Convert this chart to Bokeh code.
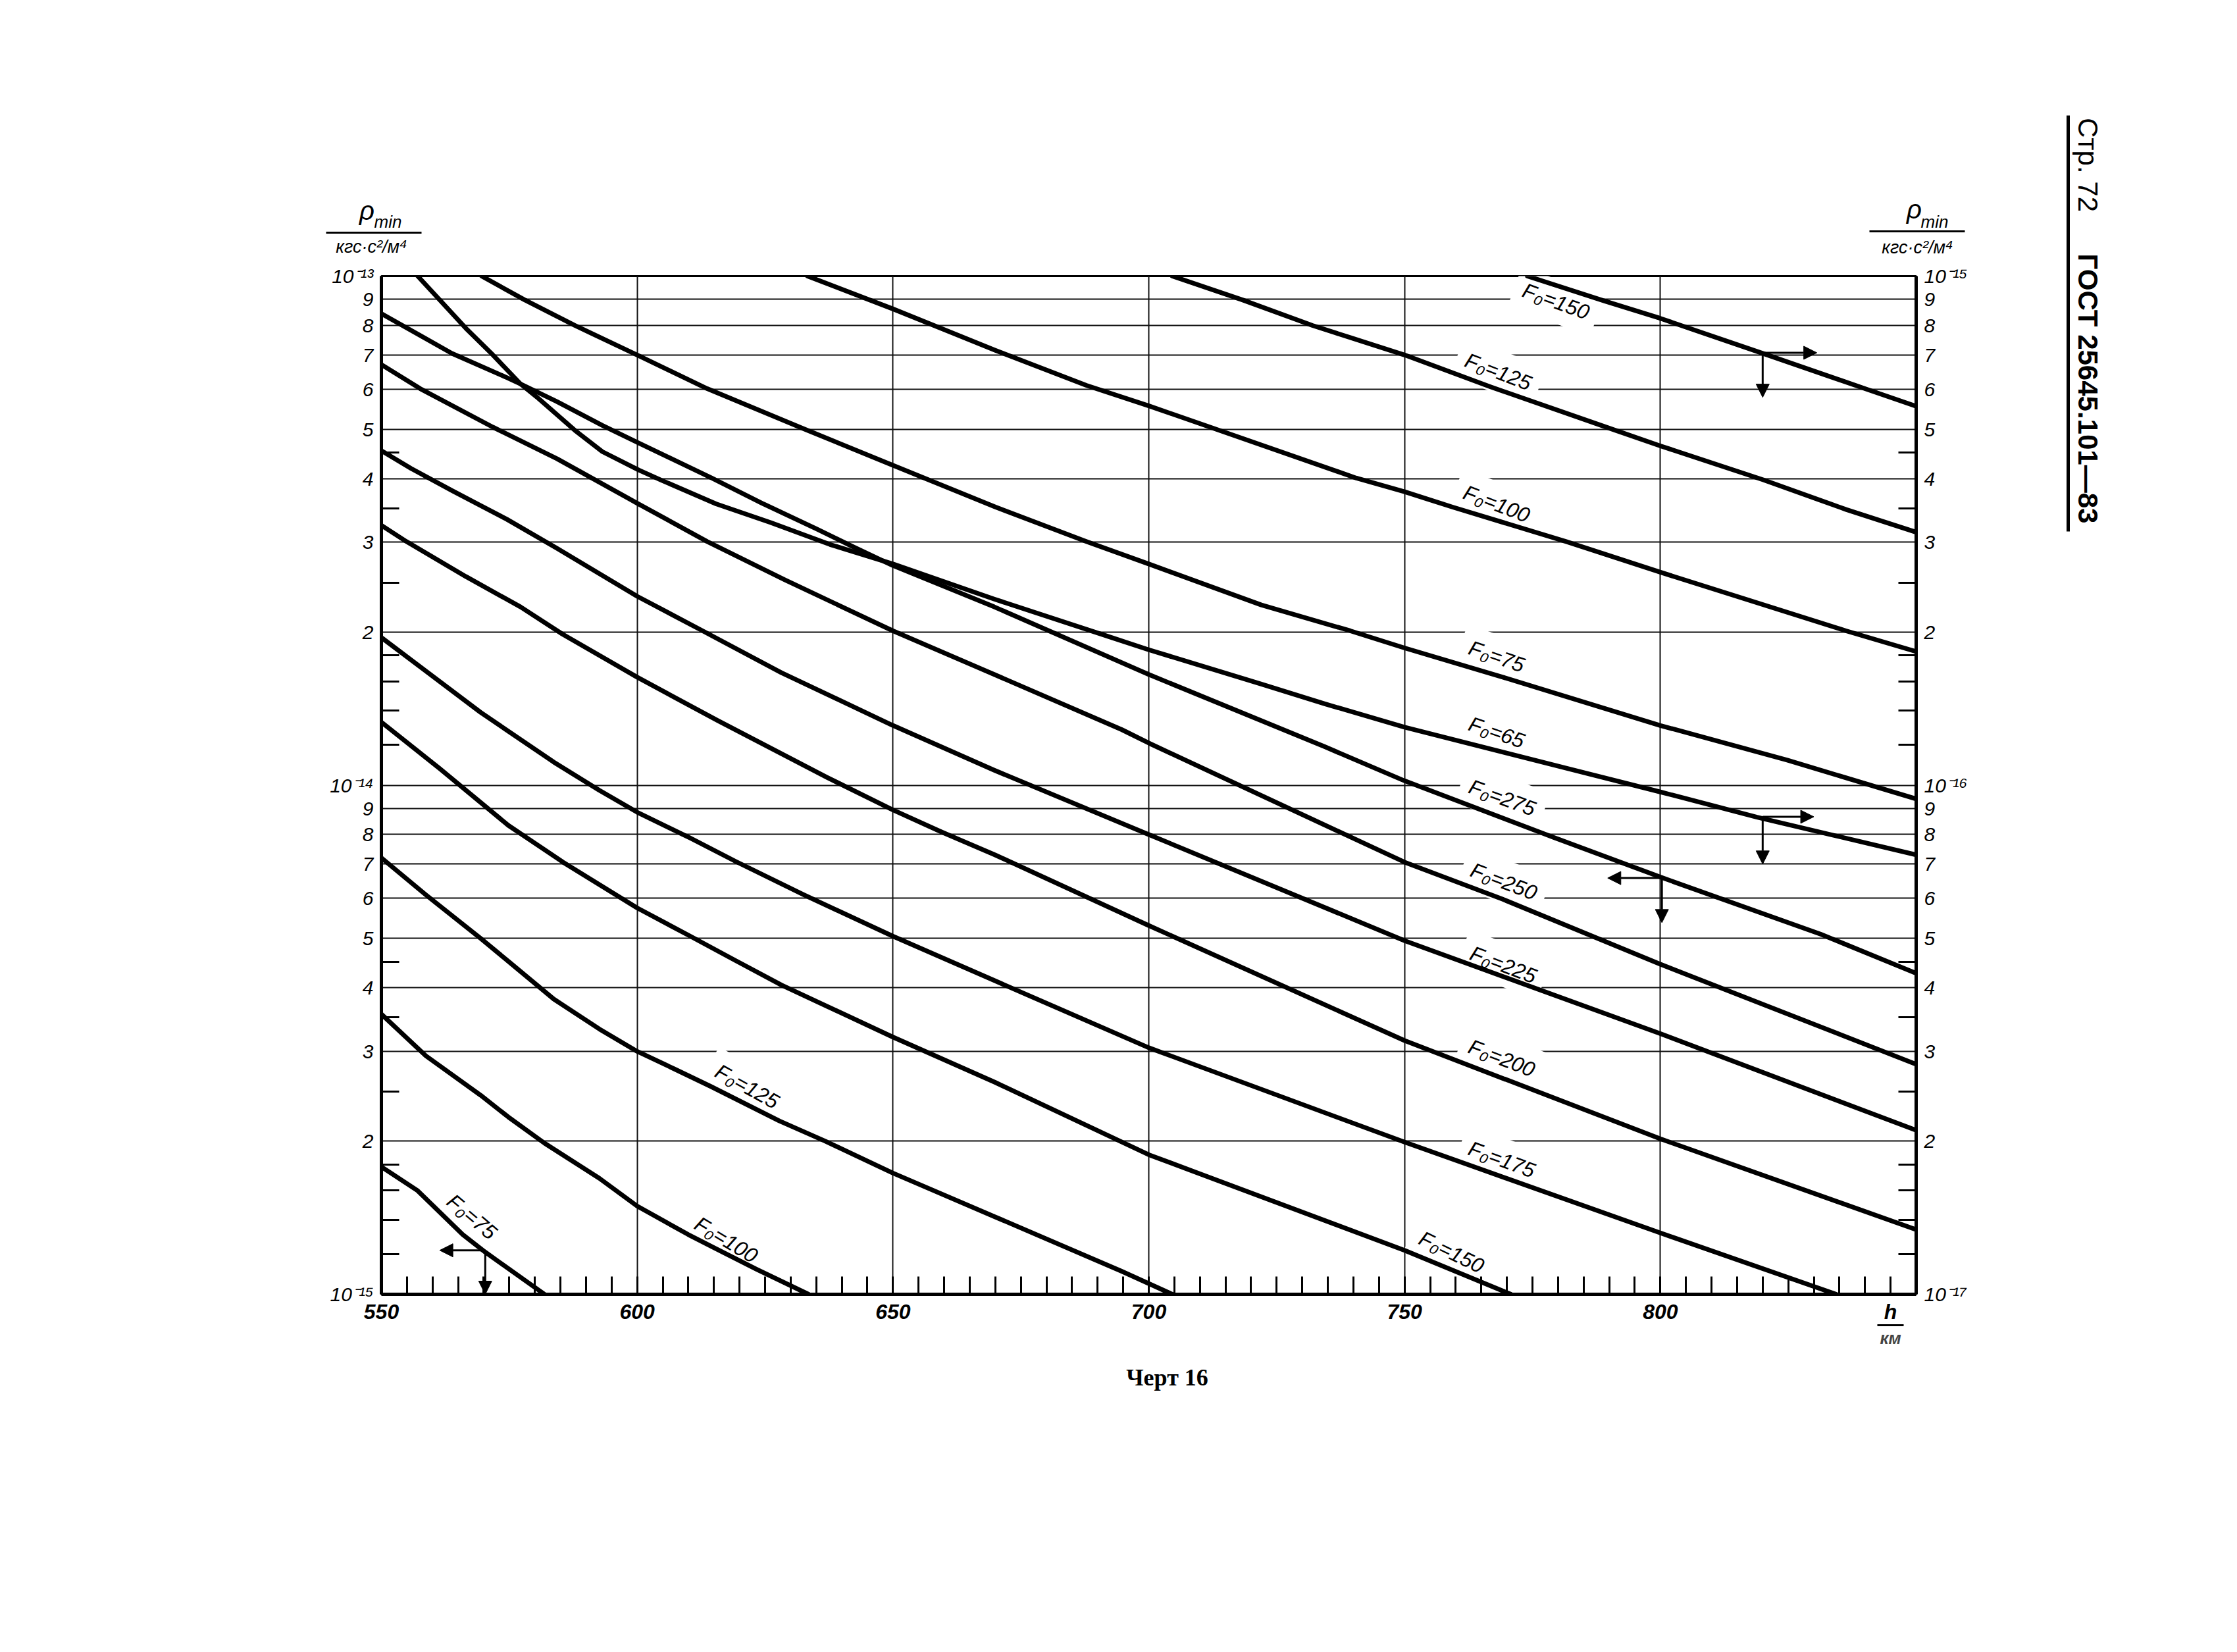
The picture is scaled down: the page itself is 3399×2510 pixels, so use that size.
import numpy as np
from bokeh.plotting import figure
from bokeh.layouts import row, column
from bokeh.models import (Plot, Range1d, LogScale, LogAxis, LinearAxis, FixedTicker, CustomJSTickFormatter,
                          Label, Arrow, NormalHead)
from bokeh.core.properties import value
from bokeh.embed import file_html
from bokeh.resources import INLINE

# ---------------- axis ticks ----------------
H_MAJOR = [550, 600, 650, 700, 750, 800]
H_UNIT_POS = 845                      # where the "h / км" unit is written
H_MINOR = list(range(555, 850, 5))
MANT_MAJOR = [1, 2, 3, 4, 5, 6, 7, 8, 9]
MANT_MINOR = [1.2, 1.4, 1.6, 1.8, 2.5, 3.5, 4.5]
LEFT_DECADES = [-15, -14]      # left scale 1e-15 .. 1e-13
RIGHT_DECADES = [-17, -16]     # right scale 1e-17 .. 1e-15

# ---------------- curves read on the RIGHT scale (values x 1e-15) ----------------
R150_h = [774.0, 789.0, 800.0, 820.0, 840.0, 850.0]
R150_v = [1.0, 0.894, 0.826, 0.705, 0.601, 0.555]
R125_h = [704.6, 718.3, 732.0, 750.0, 766.8, 789.2, 800.0, 820.1, 836.3, 850.0]
R125_v = [1.0, 0.898, 0.80, 0.70, 0.606, 0.506, 0.464, 0.398, 0.348, 0.314]
R100_h = [633.3, 650.0, 670.0, 687.8, 700.0, 710.8, 740.6, 750.0, 759.3, 781.6, 800.0, 836.3, 850.0]
R100_v = [1.0, 0.862, 0.715, 0.61, 0.556, 0.51, 0.401, 0.377, 0.352, 0.301, 0.262, 0.201, 0.183]
R75_h = [569.6, 578.0, 587.8, 600.0, 613.7, 632.4, 650.0, 670.0, 687.8, 700.0, 722.0, 739.4,
         750.0, 769.2, 800.0, 824.8, 850.0]
R75_v = [1.0, 0.898, 0.80, 0.70, 0.601, 0.502, 0.425, 0.352, 0.301, 0.272, 0.226, 0.201,
         0.186, 0.163, 0.131, 0.112, 0.094]
R65_h = [557.1, 566.5, 571.8, 577.2, 580.7, 587.8, 593.2, 600.3, 604.8, 615.4, 626.1, 637.7,
         650.0, 669.8, 693.4, 700.0, 722.0, 734.4, 750.0, 781.6, 800.0, 818.9, 850.0]
R65_v = [1.0, 0.79, 0.70, 0.614, 0.575, 0.498, 0.452, 0.416, 0.397, 0.357, 0.328, 0.297,
         0.272, 0.232, 0.194, 0.1845, 0.158, 0.1445, 0.130, 0.108, 0.097, 0.0865, 0.073]

# ---------------- curves read on the LEFT scale (values x 1e-14) ----------------
L275_h = [550, 563.8, 574.5, 577.2, 584.3, 593.2, 600.3, 614.6, 624.4, 635, 642.2, 650, 669.8,
          700, 734.4, 750, 779.1, 800, 831.3, 850]
L275_v = [8.44, 7.05, 6.32, 6.14, 5.67, 5.09, 4.7, 4.01, 3.58, 3.19, 2.94, 2.7, 2.24,
          1.65, 1.19, 1.02, 0.79, 0.66, 0.51, 0.427]
L250_h = [550, 557.6, 571.8, 584.3, 600, 613.7, 628.9, 650, 669.8, 694.7, 700, 750, 769.2, 800, 850]
L250_v = [6.7, 6.01, 5.05, 4.38, 3.58, 3.01, 2.53, 2.01, 1.65, 1.286, 1.21, 0.706, 0.597, 0.445, 0.283]
L225_h = [550, 555.8, 563.8, 574.5, 584.3, 600, 612.8, 628.2, 650, 669.8, 700, 750, 800, 850]
L225_v = [4.54, 4.19, 3.79, 3.33, 2.92, 2.35, 2.01, 1.663, 1.31, 1.07, 0.80, 0.495, 0.325, 0.21]
L200_h = [550, 554.9, 566.5, 577.2, 585.4, 600, 615.7, 637.1, 650, 659.4, 669.9, 700, 750, 800, 850]
L200_v = [3.24, 3.01, 2.57, 2.24, 1.98, 1.63, 1.34, 1.036, 0.894, 0.81, 0.73, 0.53, 0.315, 0.202, 0.134]
L175_h = [550, 569.4, 583.7, 592.6, 600, 610.4, 619.3, 632.6, 650, 669.9, 700, 750, 800, 834.4]
L175_v = [1.95, 1.39, 1.11, 0.977, 0.885, 0.787, 0.708, 0.609, 0.505, 0.413, 0.305, 0.199, 0.132, 0.1]
L150_h = [550, 561.4, 574.8, 585.5, 600, 610.4, 619.3, 628.2, 650, 669.9, 700, 750, 770.8]
L150_v = [1.33, 1.078, 0.834, 0.706, 0.574, 0.505, 0.452, 0.405, 0.32, 0.261, 0.188, 0.122, 0.1]
L125_h = [550, 558.7, 569.4, 574.8, 583.7, 592.6, 600, 607.3, 614.4, 627.8, 636.7, 650, 669.9, 694.7, 704.6]
L125_v = [0.72, 0.609, 0.5, 0.451, 0.38, 0.332, 0.30, 0.277, 0.256, 0.219, 0.20, 0.173, 0.142, 0.111, 0.1]
L100_h = [550, 558.7, 569.4, 574.8, 581.9, 592.6, 600, 610, 615.3, 623.3, 633.5]
L100_v = [0.355, 0.294, 0.246, 0.223, 0.198, 0.169, 0.149, 0.131, 0.123, 0.112, 0.1]
L75_h = [550, 557, 565.9, 570.3, 581.9]
L75_v = [0.178, 0.16, 0.131, 0.121, 0.1]

# ---------------- curve labels (position on left scale) ----------------
LAB_TEXT = ["F₀=150", "F₀=125", "F₀=100", "F₀=75", "F₀=65",
            "F₀=275", "F₀=250", "F₀=225", "F₀=200", "F₀=175", "F₀=150",
            "F₀=125", "F₀=100", "F₀=75"]
LAB_H = [779.6, 768.3, 768.0, 768.0, 768.0, 769.1, 769.4, 769.3, 769.0, 769.0, 759.2, 621.5, 617.4, 567.7]
LAB_V = [8.92e-14, 6.49e-14, 3.57e-14, 1.79e-14, 1.27e-14, 9.45e-15, 6.47e-15, 4.44e-15,
         2.91e-15, 1.84e-15, 1.21e-15, 2.56e-15, 1.28e-15, 1.42e-15]
LAB_ANG = [-20, -21, -21, -19, -19, -20, -21, -21, -21, -20, -26, -29, -31, -40]

# ---------------- arrows (left-scale units) ----------------
ARR_X0 = [820.0, 820.0, 820.0, 820.0, 800.3, 800.3, 570.3, 570.3]
ARR_Y0 = [7.07e-14, 7.07e-14, 8.67e-15, 8.67e-15, 6.57e-15, 6.57e-15, 1.22e-15, 1.22e-15]
ARR_X1 = [830.6, 820.0, 830.0, 820.0, 789.7, 800.3, 561.4, 570.3]
ARR_Y1 = [7.07e-14, 5.78e-14, 8.67e-15, 7.0e-15, 6.57e-15, 5.37e-15, 1.22e-15, 1.0e-15]

# ---------------- page geometry (page pixels) ----------------
FL, FT, FR, FB = 587, 427, 2919, 1974       # frame edges on the page
PAGE_L, PAGE_T, PAGE_R, PAGE_B = 8, 8, 3391, 2502
SPLIT_X = 3128       # main column | side strip
TOP_B = 403          # header strip bottom
MAIN_BOTTOM_BORDER = 100
FONT = "Liberation Sans"
HAS_FRAME_ALIGN = "frame_align" in Plot.properties()


def decade_ticks(decades, mants, top):
    t = [m * 10.0 ** d for d in decades for m in mants]
    if top is not None:
        t.append(10.0 ** top)
    return t


LEFT_MAJOR = decade_ticks(LEFT_DECADES, MANT_MAJOR, -13)
LEFT_MINOR = decade_ticks(LEFT_DECADES, MANT_MINOR, None)
RIGHT_MAJOR = decade_ticks(RIGHT_DECADES, MANT_MAJOR, -15)
RIGHT_MINOR = decade_ticks(RIGHT_DECADES, MANT_MINOR, None)

p = figure(frame_width=FR - FL, frame_height=FB - FT,
           x_range=Range1d(550, 850), y_range=Range1d(1e-15, 1e-13), y_axis_type="log",
           output_backend="svg", toolbar_location=None,
           min_border_left=FL - PAGE_L, min_border_right=SPLIT_X - FR,
           min_border_top=FT - TOP_B, min_border_bottom=MAIN_BOTTOM_BORDER,
           background_fill_color="white", border_fill_color="white")
if HAS_FRAME_ALIGN:
    p.frame_align = False
p.outline_line_color = "black"
p.outline_line_width = 3

p.extra_y_ranges = {"right": Range1d(1e-17, 1e-15)}
p.extra_y_scales = {"right": LogScale()}

fmt_code = """
const e = Math.floor(Math.log10(tick) + 1e-6);
const m = Math.round(tick / Math.pow(10, e));
if (m === 1) {
  const sup = {"-": "\\u207b", "0": "\\u2070", "1": "\\u00b9", "2": "\\u00b2", "3": "\\u00b3",
               "4": "\\u2074", "5": "\\u2075", "6": "\\u2076", "7": "\\u2077", "8": "\\u2078", "9": "\\u2079"};
  return "10" + String(e).split("").map(c => sup[c]).join("");
}
return String(m);
"""


def style_axis(ax, size="30px"):
    ax.axis_line_color = "black"
    ax.axis_line_width = 5
    ax.major_tick_in = 0
    ax.major_tick_out = 0
    ax.minor_tick_in = 27
    ax.minor_tick_out = 0
    ax.minor_tick_line_color = "black"
    ax.minor_tick_line_width = 3
    ax.major_label_text_font = FONT
    ax.major_label_text_font_style = "italic"
    ax.major_label_text_font_size = size
    ax.major_label_text_color = "black"
    ax.major_label_standoff = 12


ly = p.yaxis[0]
ly.ticker = FixedTicker(ticks=LEFT_MAJOR, minor_ticks=LEFT_MINOR)
ly.formatter = CustomJSTickFormatter(code=fmt_code)
style_axis(ly)

ry = LogAxis(y_range_name="right", ticker=FixedTicker(ticks=RIGHT_MAJOR, minor_ticks=RIGHT_MINOR),
             formatter=CustomJSTickFormatter(code=fmt_code))
style_axis(ry)
p.add_layout(ry, "right")

bx = p.xaxis[0]
bx.ticker = FixedTicker(ticks=H_MAJOR + [H_UNIT_POS], minor_ticks=H_MINOR)
bx.major_label_overrides = {H_UNIT_POS: "h"}
style_axis(bx, "32px")
bx.major_label_text_font_style = "bold italic"
bx.major_label_standoff = 8

# second (short) bottom axis: fraction bar + "км"
ux = LinearAxis(ticker=FixedTicker(ticks=[H_UNIT_POS]), bounds=(H_UNIT_POS - 2.6, H_UNIT_POS + 2.6),
                major_label_overrides={H_UNIT_POS: "км"})
ux.axis_line_color = "black"
ux.axis_line_width = 3
ux.major_tick_in = 0
ux.major_tick_out = 0
ux.minor_tick_line_color = None
ux.major_label_text_font = FONT
ux.major_label_text_font_style = "bold italic"
ux.major_label_text_font_size = "26px"
ux.major_label_standoff = 4
p.add_layout(ux, "below")

p.xgrid.ticker = FixedTicker(ticks=H_MAJOR[1:])
p.ygrid.ticker = FixedTicker(ticks=LEFT_MAJOR)
for g in (p.xgrid, p.ygrid):
    g.grid_line_color = "#111111"
    g.grid_line_width = 2
    g.grid_line_alpha = 1.0

# curves
right_set = [(R150_h, R150_v), (R125_h, R125_v), (R100_h, R100_v), (R75_h, R75_v), (R65_h, R65_v)]
left_set = [(L275_h, L275_v), (L250_h, L250_v), (L225_h, L225_v), (L200_h, L200_v),
            (L175_h, L175_v), (L150_h, L150_v), (L125_h, L125_v), (L100_h, L100_v), (L75_h, L75_v)]
for h, v in right_set:
    p.line(h, np.array(v) * 1e-15, y_range_name="right", line_color="black", line_width=7,
           line_join="round", line_cap="round")
for h, v in left_set:
    p.line(h, np.array(v) * 1e-14, line_color="black", line_width=7,
           line_join="round", line_cap="round")

# curve labels (white box interrupts grid lines like in the print)
for txt_, h, v, a in zip(LAB_TEXT, LAB_H, LAB_V, LAB_ANG):
    p.add_layout(Label(x=h, y=v, text=txt_, angle=np.deg2rad(a), text_align="center",
                       text_baseline="middle", text_font=FONT, text_font_style="italic",
                       text_font_size="32px", text_color="black",
                       background_fill_color="white", padding=14, level="underlay"))

# arrows
for x0, y0, x1, y1 in zip(ARR_X0, ARR_Y0, ARR_X1, ARR_Y1):
    p.add_layout(Arrow(x_start=x0, y_start=y0, x_end=x1, y_end=y1, line_width=3, line_color="black",
                       end=NormalHead(size=20, fill_color="black", line_color="black", line_width=1)))


# ---------------- helper strips for page text (coordinates = page pixels, y negated) ----------------
def strip(x0, x1, y0, y1):
    f = figure(width=x1 - x0, height=y1 - y0, x_range=Range1d(x0, x1), y_range=Range1d(-y1, -y0),
               output_backend="svg", toolbar_location=None, x_axis_location=None, y_axis_location=None,
               min_border=0, min_border_left=0, min_border_right=0, min_border_top=0, min_border_bottom=0,
               background_fill_color="white", border_fill_color="white")
    if HAS_FRAME_ALIGN:
        f.frame_align = False
    f.outline_line_color = None
    f.grid.visible = False
    return f


def txt(f, x, y, s, size, style="italic", font=FONT, angle=0.0):
    f.text(x=[x], y=[-y], text=[s], text_font=value(font), text_font_size=value(f"{size}px"),
           text_font_style=style, text_align="center", text_baseline="middle", angle=angle,
           text_color="black")


def bar(f, x0, y0, x1, y1, w):
    f.segment(x0=[x0], y0=[-y0], x1=[x1], y1=[-y1], line_width=w, line_color="black")


main_h = (FT - TOP_B) + (FB - FT) + MAIN_BOTTOM_BORDER
top = strip(PAGE_L, SPLIT_X, PAGE_T, TOP_B)
# left ordinate title
txt(top, 565, 327, "ρ", 40)
txt(top, 597, 344, "min", 26)
bar(top, 503, 361, 648, 361, 3)
txt(top, 572, 382, "кгс·с²/м⁴", 27)
# right ordinate title
txt(top, 2916, 325, "ρ", 40)
txt(top, 2947, 344, "min", 26)
bar(top, 2848, 359, 2993, 359, 3)
txt(top, 2921, 383, "кгс·с²/м⁴", 27)

bottom = strip(PAGE_L, SPLIT_X, TOP_B + main_h, PAGE_B)
txt(bottom, 1781, 2100, "Черт 16", 36, style="bold", font="Liberation Serif")

side = strip(SPLIT_X, PAGE_R, PAGE_T, PAGE_B)
txt(side, 3180, 258, "Стр. 72", 42, style="normal", angle=-np.pi / 2)
txt(side, 3180, 598, "ГОСТ 25645.101—83", 42, style="bold", angle=-np.pi / 2)
bar(side, 3150, 183, 3150, 815, 5)

layout = row(column(top, p, bottom, spacing=0), side, spacing=0)
open("out.html", "w").write(file_html(layout, INLINE))
